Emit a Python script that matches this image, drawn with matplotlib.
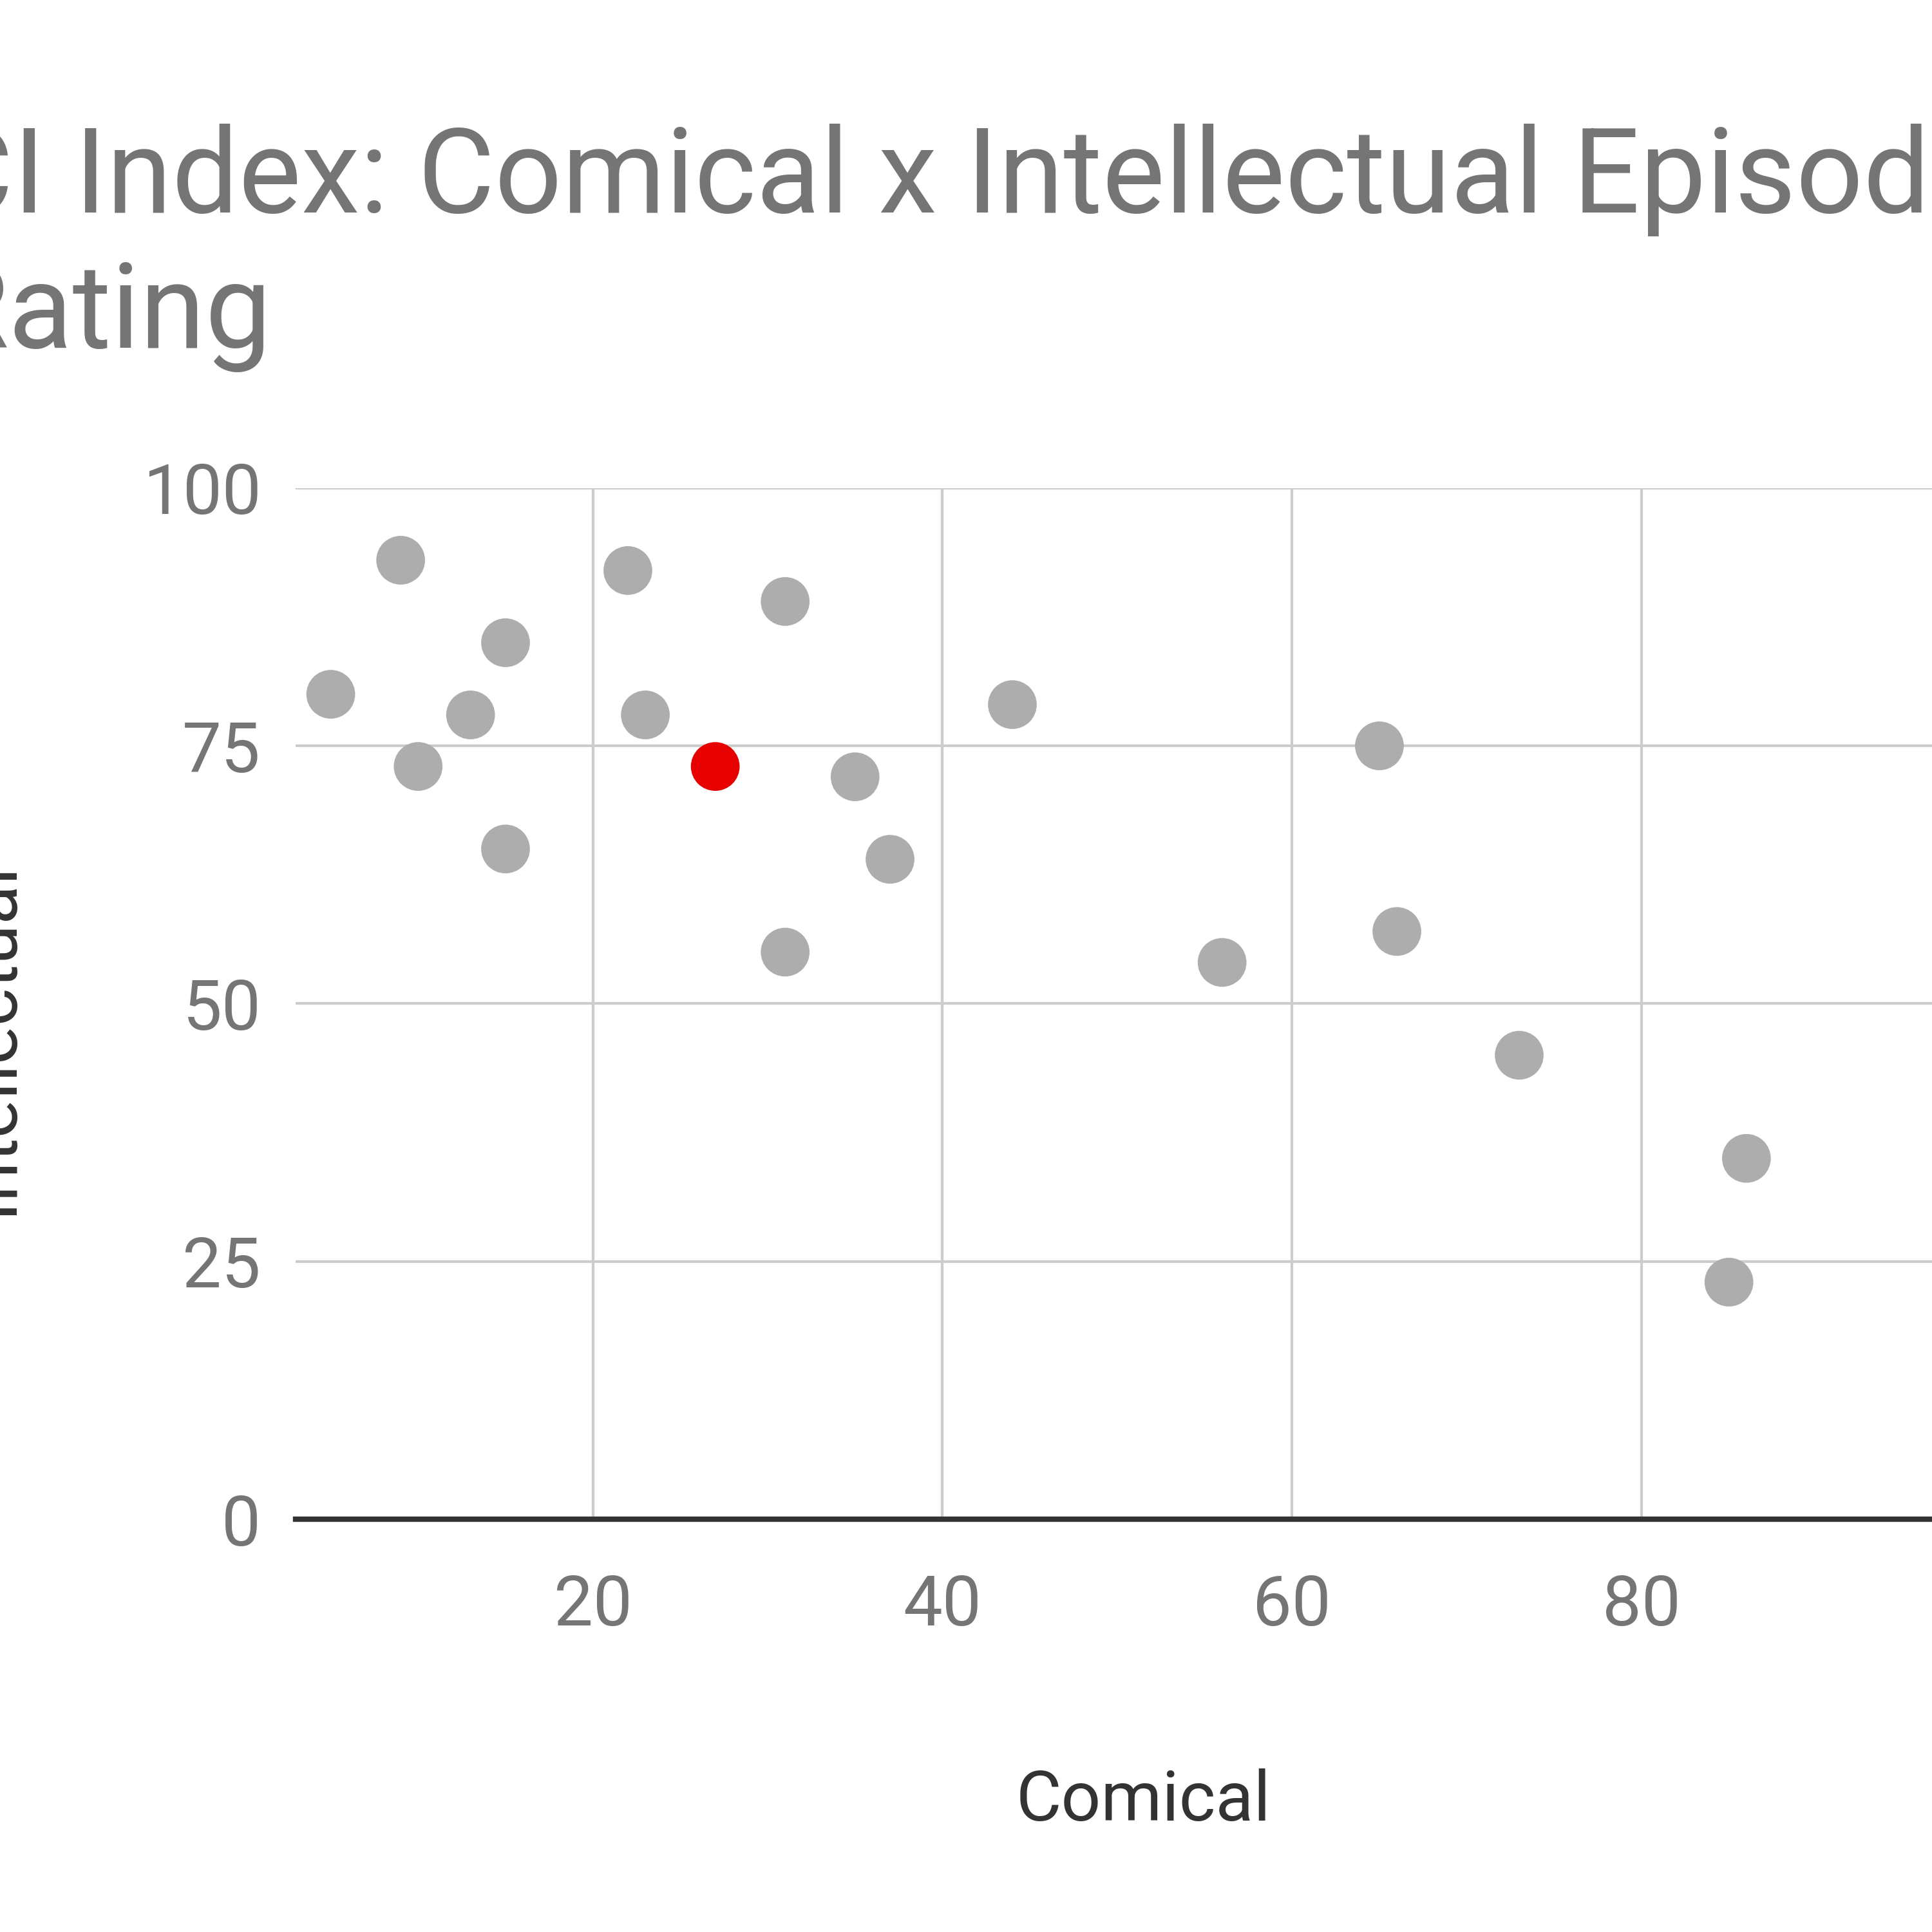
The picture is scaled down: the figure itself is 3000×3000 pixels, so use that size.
import matplotlib.pyplot as plt

# Episode scores (Comical, Intellectual)
comical = [9, 5, 15, 13, 10, 15, 22, 23, 31, 35, 37, 31, 44, 65, 56, 66, 73, 86, 85]
intellectual = [93, 80, 85, 78, 73, 65, 92, 78, 89, 72, 64, 55, 79, 75, 54, 57, 45, 35, 23]

# Highlighted episode
highlight_comical = [27]
highlight_intellectual = [73]

x_ticks = [20, 40, 60, 80]
y_ticks = [0, 25, 50, 75, 100]

plt.rcParams['font.family'] = ['Roboto', 'DejaVu Sans']

fig = plt.figure(figsize=(10, 10), dpi=300)
ax = fig.add_axes([0.1531, 0.2136, 0.8775, 0.5338])

ax.scatter(comical, intellectual, s=330, color='#adadad', edgecolors='none', zorder=3, clip_on=False)
ax.scatter(highlight_comical, highlight_intellectual, s=330, color='#e60000', edgecolors='none', zorder=4)

ax.set_xlim(3, 100)
ax.set_ylim(0, 100)
ax.set_xticks(x_ticks)
ax.set_yticks(y_ticks)

ax.grid(True, color='#cccccc', linewidth=1.0)
ax.set_axisbelow(True)
for side in ['left', 'right', 'top']:
    ax.spines[side].set_visible(False)
ax.spines['bottom'].set_color('#333333')
ax.spines['bottom'].set_linewidth(2.0)
ax.spines['bottom'].set_zorder(2)

ax.tick_params(axis='both', length=0, labelsize=26, labelcolor='#757575')
ax.tick_params(axis='x', pad=20)
ax.tick_params(axis='y', pad=13)

ax.set_xlabel('Comical', fontsize=26, color='#333333', labelpad=48)

fig.text(0.0135, 0.463, 'Intellectual', rotation=90, ha='right', va='center',
         fontsize=27, color='#333333')

# title (cut off at the left edge in the original)
fig.text(-0.033, 0.890, 'CI Index: Comical x Intellectual Episode', ha='left', va='baseline',
         fontsize=44, color='#757575')
fig.text(-0.033, 0.820, 'Rating', ha='left', va='baseline',
         fontsize=44, color='#757575')

fig.savefig('out.png', dpi=300)
